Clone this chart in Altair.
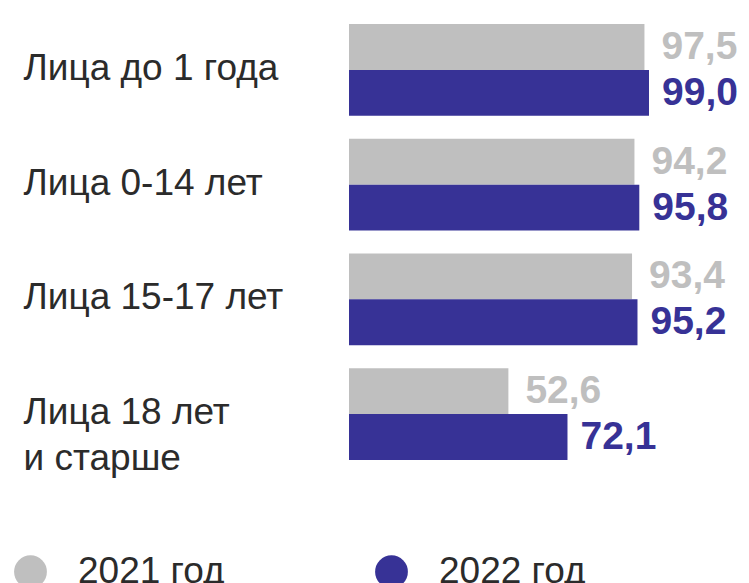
import altair as alt
import pandas as pd

categories = ["Лица до 1 года", "Лица 0-14 лет", "Лица 15-17 лет", "Лица 18 лет\nи старше"]
years = ["2021 год", "2022 год"]
values_2021 = [97.5, 94.2, 93.4, 52.6]
values_2022 = [99.0, 95.8, 95.2, 72.1]
colors = ["#bfbfbf", "#373296"]

rows = []
for c, a, b in zip(categories, values_2021, values_2022):
    rows.append({"cat": c, "year": years[0], "value": a})
    rows.append({"cat": c, "year": years[1], "value": b})
df = pd.DataFrame(rows)
df["label"] = df["value"].map(lambda v: f"{v:.1f}".replace(".", ","))

FONT = "Liberation Sans"

y_enc = alt.Y(
    "cat:N",
    sort=categories,
    scale=alt.Scale(paddingInner=0.2, paddingOuter=0.14),
    axis=alt.Axis(
        title=None, domain=False, ticks=False, tickSize=0, grid=False,
        labelAlign="left", labelPadding=326, labelBaseline="top", labelOffset=-19,
        labelFontSize=37, labelFont=FONT, labelColor="#2b2b2b", labelLimit=500,
        labelLineHeight=46, labelExpr="split(datum.label, '\\n')",
    ),
)
x_enc = alt.X("value:Q", scale=alt.Scale(domain=[0, 129.36], nice=False, zero=True), axis=None)
yoff = alt.YOffset("year:N", sort=years, scale=alt.Scale(paddingInner=0, paddingOuter=0))
color_scale = alt.Scale(domain=years, range=colors)

base = alt.Chart(df)

bars = base.mark_bar(cornerRadius=0).encode(
    y=y_enc,
    x=x_enc,
    yOffset=yoff,
    color=alt.Color(
        "year:N",
        scale=color_scale,
        legend=alt.Legend(
            title=None, orient="none", legendX=-337, legendY=545, direction="horizontal",
            symbolType="circle", symbolSize=1075, symbolStrokeWidth=0, symbolOpacity=1,
            labelFontSize=37, labelFont=FONT, labelColor="#2b2b2b", labelOffset=29,
            columnPadding=148, labelLimit=500, padding=0, offset=0,
        ),
    ),
)

text_2021 = base.transform_filter(alt.datum.year == years[0]).mark_text(
    align="left", baseline="middle", dx=17, fontSize=39, fontWeight="bold", font=FONT
).encode(
    y=y_enc, x=x_enc, yOffset=yoff, text="label:N",
    color=alt.Color("year:N", scale=color_scale, legend=None),
)
text_2022 = base.transform_filter(alt.datum.year == years[1]).mark_text(
    align="left", baseline="middle", dx=13, fontSize=39, fontWeight="bold", font=FONT
).encode(
    y=y_enc, x=x_enc, yOffset=yoff, text="label:N",
    color=alt.Color("year:N", scale=color_scale, legend=None),
)

chart = alt.layer(bars, text_2021, text_2022).properties(
    width=392,
    height=468,
    autosize=alt.AutoSizeParams(type="none"),
    padding={"left": 341, "top": 0, "right": 0, "bottom": 107},
).configure(font=FONT, background="white").configure_view(stroke=None, strokeWidth=0)

chart.save("out.html", embed_options={"renderer": "svg", "actions": False})
